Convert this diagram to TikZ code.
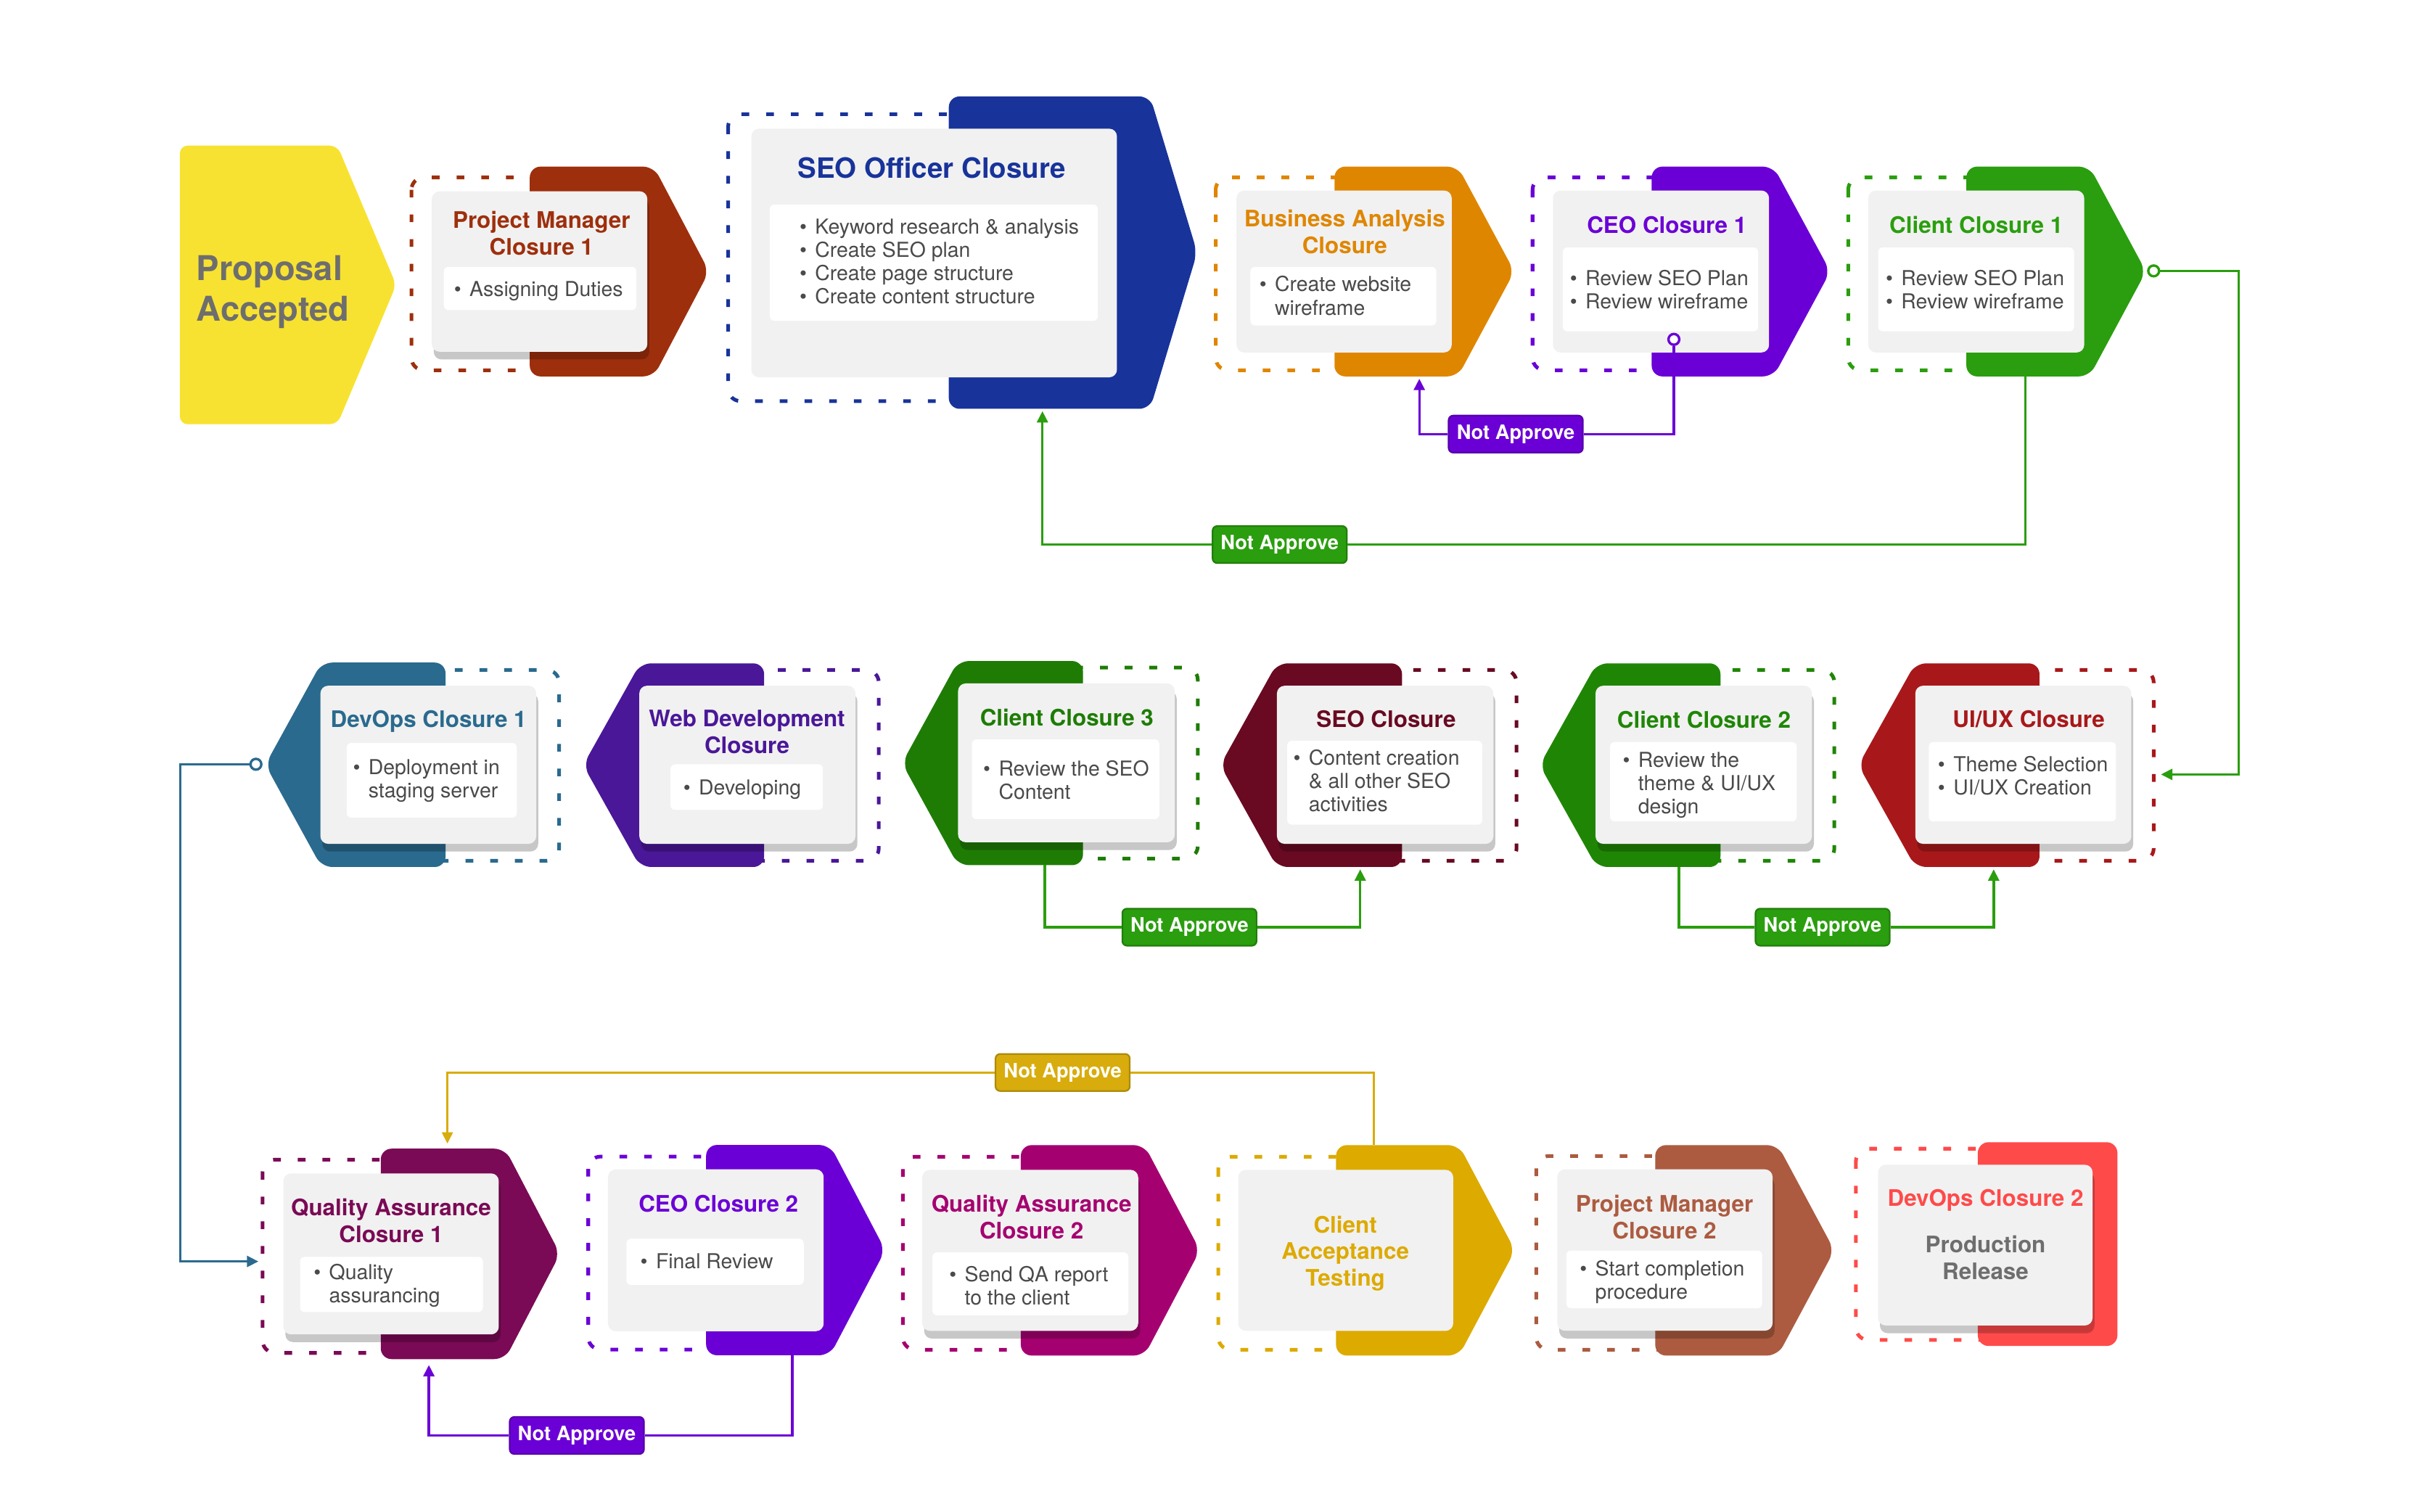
\documentclass[tikz,border=0pt]{standalone}
\usepackage{fontspec}
\setmainfont{TeX Gyre Heros}
\usetikzlibrary{arrows.meta,fit,shadows}
\definecolor{propyel}{HTML}{F8E231}
\definecolor{propgrey}{HTML}{6E6E6E}
\definecolor{cardgrey}{HTML}{F1F1F1}
\definecolor{itemgrey}{HTML}{4A4A4A}
\definecolor{pmred}{HTML}{9E2F0C}
\definecolor{seoblue}{HTML}{18339A}
\definecolor{baorange}{HTML}{DF8600}
\definecolor{ceopurple}{HTML}{6B00D6}
\definecolor{cligreen}{HTML}{2A9E0E}
\definecolor{uxred}{HTML}{A8181A}
\definecolor{cligreenb}{HTML}{1F8605}
\definecolor{seomaroon}{HTML}{690A22}
\definecolor{cligreenc}{HTML}{1E7C04}
\definecolor{webpurple}{HTML}{4A1798}
\definecolor{devteal}{HTML}{2A6A8E}
\definecolor{qaplum}{HTML}{7A0A55}
\definecolor{qamagenta}{HTML}{A50070}
\definecolor{catgold}{HTML}{DDAA00}
\definecolor{pmbrown}{HTML}{AC5B40}
\definecolor{devred}{HTML}{FF4A4A}
\definecolor{notegold}{HTML}{D8AC0C}
\newcommand{\bull}{\makebox[5.7pt][l]{\textbullet}}
\newcommand{\bind}{\hspace*{5.7pt}}

\begin{document}
\begin{tikzpicture}[x=0.2mm,y=-0.2mm,
  ring/.style={draw=#1,line width=1.35pt,dash pattern=on 1mm off 2.2mm,rounded corners=1.6mm},
  tab/.style={fill=#1,rounded corners=1.4mm},
  card/.style={fill=cardgrey,rounded corners=1mm,inner sep=0pt},
  lifted/.style={card,drop shadow={shadow xshift=0.25mm,shadow yshift=-1mm,fill=black,opacity=0.22}},
  itembox/.style={fill=white,rounded corners=0.6mm,inner sep=0pt},
  head/.style={text=#1,anchor=north,inner sep=0pt,align=center,font=\bfseries\fontsize{8.4}{9.85}\selectfont},
  items/.style={text=itemgrey,anchor=north west,inner sep=0pt,align=left,font=\fontsize{7.6}{8.6}\selectfont},
  flow/.style={draw=#1,line width=0.9pt},
  arrowed/.style={-{Triangle[width=4pt,length=4.2pt]}},
  knob/.style={circle,draw=#1,fill=white,line width=0.9pt,minimum size=1.4mm,inner sep=0pt},
  noapp/.style={fill=#1,draw=#1!80!black,line width=0.6pt,text=white,rounded corners=0.6mm,
    minimum width=17.4mm,minimum height=4.8mm,inner sep=0pt,font=\bfseries\fontsize{7.3}{8}\selectfont}]
\useasboundingbox (0,0) rectangle (1568,980);
% proposal
\fill[propyel,rounded corners=1mm] (116.6,94.4) -- (218.7,94.4) -- (256.8,184.7) -- (218.7,275) -- (116.6,275) -- cycle;
\node[anchor=north west,inner sep=0pt,align=left,text=propgrey,font=\bfseries\fontsize{12.6}{14.8}\selectfont] (prop) at (127,165.5) {Proposal\\Accepted};
% project manager 1
\draw[ring=pmred] (266.7,115) rectangle (360,240);
\fill[tab=pmred] (343.4,108) -- (423.8,108) -- (459.6,176) -- (423.8,244) -- (343.4,244) -- cycle;
\node[lifted,fit={(279.9,124) (419.6,228)}] (pmA) {};
\node[itembox,fit={(287.7,173) (412.5,201)}] (pmAbox) {};
\node[head=pmred] (pmAhead) at (351,136.5) {Project Manager\\Closure 1};
\node[items] (pmAlist) at (294,182) {\bull Assigning Duties};
% seo officer
\draw[ring=seoblue] (472,74) rectangle (630,260);
\fill[tab=seoblue] (615,62.5) -- (745.5,62.5) -- (776,163.7) -- (745.5,265) -- (615,265) -- cycle;
\node[card,fit={(487,83.4) (724,244.6)}] (seoA) {};
\node[itembox,fit={(499,132.6) (711.6,208)}] (seoAbox) {};
\node[head=seoblue,font=\bfseries\fontsize{10.3}{12}\selectfont] (seoAhead) at (604,101.5) {SEO Officer Closure};
\node[items] (seoAlist) at (518,141.5) {\bull Keyword research \& analysis\\\bull Create SEO plan\\\bull Create page structure\\\bull Create content structure};
% business analysis
\draw[ring=baorange] (788,115) rectangle (880,240);
\fill[tab=baorange] (865,108) -- (945,108) -- (981.6,176) -- (945,244) -- (865,244) -- cycle;
\node[card,fit={(801.5,123.5) (941,228.5)}] (baA) {};
\node[itembox,fit={(810.5,173) (931,211)}] (baAbox) {};
\node[head=baorange] (baAhead) at (871.6,135.5) {Business Analysis\\Closure};
\node[items] (baAlist) at (816,178.7) {\bull Create website\\\bind wireframe};
% ceo 1
\draw[ring=ceopurple] (993.4,115) rectangle (1085,240);
\fill[tab=ceopurple] (1070.6,108) -- (1149.6,108) -- (1186.4,176) -- (1149.6,244) -- (1070.6,244) -- cycle;
\node[card,fit={(1006.6,123.5) (1146.7,228.5)}] (ceoA) {};
\node[itembox,fit={(1013,160.4) (1139.6,214.8)}] (ceoAbox) {};
\node[head=ceopurple] (ceoAhead) at (1080.4,139.7) {CEO Closure 1};
\node[items] (ceoAlist) at (1017.3,174.9) {\bull Review SEO Plan\\\bull Review wireframe};
% client 1
\draw[ring=cligreen] (1198,115) rectangle (1290,240);
\fill[tab=cligreen] (1274.6,108) -- (1354.4,108) -- (1391,176) -- (1354.4,244) -- (1274.6,244) -- cycle;
\node[card,fit={(1211,123.5) (1351,228.5)}] (cliA) {};
\node[itembox,fit={(1217.4,160.4) (1344.4,214.8)}] (cliAbox) {};
\node[head=cligreen] (cliAhead) at (1281,139.7) {Client Closure 1};
\node[items] (cliAlist) at (1222,174.9) {\bull Review SEO Plan\\\bull Review wireframe};
% ui/ux
\draw[ring=uxred] (1300,434.3) rectangle (1396,558);
\fill[tab=uxred] (1322,430) -- (1241.5,430) -- (1204.6,496) -- (1241.5,562) -- (1322,562) -- cycle;
\node[lifted,fit={(1241.5,444.5) (1381.5,547)}] (uxA) {};
\node[itembox,fit={(1250.2,481) (1371.6,532.5)}] (uxAbox) {};
\node[head=uxred] (uxAhead) at (1315,460) {UI/UX Closure};
\node[items] (uxAlist) at (1255.8,490) {\bull Theme Selection\\\bull UI/UX Creation};
% client 2
\draw[ring=cligreenb] (1095,434.3) rectangle (1189,558);
\fill[tab=cligreenb] (1115.2,430) -- (1035,430) -- (998,496) -- (1035,562) -- (1115.2,562) -- cycle;
\node[lifted,fit={(1034.2,444.5) (1174.5,547)}] (cliB) {};
\node[itembox,fit={(1043.6,481) (1164.6,532.5)}] (cliBbox) {};
\node[head=cligreenb] (cliBhead) at (1104.5,460.4) {Client Closure 2};
\node[items] (cliBlist) at (1051.5,487.2) {\bull Review the\\\bind theme \& UI/UX\\\bind design};
% seo closure
\draw[ring=seomaroon] (890,434.3) rectangle (983,558);
\fill[tab=seomaroon] (908.8,430) -- (827.7,430) -- (791,496) -- (827.7,562) -- (908.8,562) -- cycle;
\node[lifted,fit={(827.7,444.5) (968,547)}] (seoB) {};
\node[itembox,fit={(834.4,480.2) (960.8,534.6)}] (seoBbox) {};
\node[head=seomaroon] (seoBhead) at (898.5,460) {SEO Closure};
\node[items] (seoBlist) at (838,485.7) {\bull Content creation\\\bind \& all other SEO\\\bind activities};
% client 3
\draw[ring=cligreenc] (680,432.7) rectangle (776.4,556.5);
\fill[tab=cligreenc] (702,428.5) -- (621,428.5) -- (584.7,494.7) -- (621,560.8) -- (702,560.8) -- cycle;
\node[lifted,fit={(621,443) (761.5,546)}] (cliC) {};
\node[itembox,fit={(630,479.3) (751.5,531)}] (cliCbox) {};
\node[head=cligreenc] (cliChead) at (691.5,459.2) {Client Closure 3};
\node[items] (cliClist) at (637,492.7) {\bull Review the SEO\\\bind Content};
% web development
\draw[ring=webpurple] (475,434.3) rectangle (569.6,558);
\fill[tab=webpurple] (495.3,430) -- (415,430) -- (378,496) -- (415,562) -- (495.3,562) -- cycle;
\node[lifted,fit={(414.4,444.5) (554.5,547)}] (webA) {};
\node[itembox,fit={(434.6,495.4) (533.4,525)}] (webAbox) {};
\node[head=webpurple] (webAhead) at (484.2,460) {Web Development\\Closure};
\node[items] (webAlist) at (442.6,505) {\bull Developing};
% devops 1
\draw[ring=devteal] (270,434.3) rectangle (362.4,558);
\fill[tab=devteal] (288.8,429.5) -- (208.4,429.5) -- (172,495.7) -- (208.4,562) -- (288.8,562) -- cycle;
\node[lifted,fit={(207.7,444.5) (347.6,547)}] (devA) {};
\node[itembox,fit={(224.7,481.6) (335,530)}] (devAbox) {};
\node[head=devteal] (devAhead) at (277.8,460) {DevOps Closure 1};
\node[items] (devAlist) at (228.5,491.9) {\bull Deployment in\\\bind staging server};
% quality assurance 1
\draw[ring=qaplum] (170.2,751.7) rectangle (260,877);
\fill[tab=qaplum] (246.8,744.6) -- (327.4,744.6) -- (363,812.8) -- (327.4,881) -- (246.8,881) -- cycle;
\node[lifted,fit={(183.7,760.6) (323.3,865)}] (qaA) {};
\node[itembox,fit={(194.5,814.7) (313,850.5)}] (qaAbox) {};
\node[head=qaplum] (qaAhead) at (253.5,776.7) {Quality Assurance\\Closure 1};
\node[items] (qaAlist) at (203,819) {\bull Quality\\\bind assurancing};
% ceo 2
\draw[ring=ceopurple] (381.3,749.7) rectangle (470,874.8);
\fill[tab=ceopurple] (457.7,742.2) -- (538,742.2) -- (573.8,810.4) -- (538,878.5) -- (457.7,878.5) -- cycle;
\node[card,fit={(394.1,758) (533.9,862.9)}] (ceoB) {};
\node[itembox,fit={(406,803) (521,832.9)}] (ceoBbox) {};
\node[head=ceopurple] (ceoBhead) at (465.7,774.3) {CEO Closure 2};
\node[items] (ceoBlist) at (414.8,812) {\bull Final Review};
% quality assurance 2
\draw[ring=qamagenta] (585.2,749.8) rectangle (675,874.9);
\fill[tab=qamagenta] (661.7,742.3) -- (741.8,742.3) -- (777.8,810.5) -- (741.8,878.7) -- (661.7,878.7) -- cycle;
\node[lifted,fit={(597.8,758.3) (737.8,862.7)}] (qaB) {};
\node[itembox,fit={(604.4,811.8) (731.4,852.6)}] (qaBbox) {};
\node[head=qamagenta] (qaBhead) at (668.6,774.3) {Quality Assurance\\Closure 2};
\node[items] (qaBlist) at (615,820.3) {\bull Send QA report\\\bind to the client};
% client acceptance
\draw[ring=catgold] (789.7,749.8) rectangle (880,874.9);
\fill[tab=catgold] (866,742.3) -- (945.7,742.3) -- (982,810.5) -- (945.7,878.7) -- (866,878.7) -- cycle;
\node[card,fit={(802.6,758.3) (942,862.7)}] (catA) {};
\node[head=catgold] (catAhead) at (872,787.7) {Client\\Acceptance\\Testing};
% project manager 2
\draw[ring=pmbrown] (995.8,749.4) rectangle (1085,874.9);
\fill[tab=pmbrown] (1072.9,742.3) -- (1152.4,742.3) -- (1189,810.5) -- (1152.4,878.7) -- (1072.9,878.7) -- cycle;
\node[lifted,fit={(1009.4,758) (1149,862.6)}] (pmB) {};
\node[itembox,fit={(1015.3,810.6) (1142.2,848)}] (pmBbox) {};
\node[head=pmbrown] (pmBhead) at (1078.9,774.3) {Project Manager\\Closure 2};
\node[items] (pmBlist) at (1023.7,816.5) {\bull Start completion\\\bind procedure};
% devops 2
\draw[ring=devred] (1203,744.6) rectangle (1295,868.6);
\fill[tab=devred] (1282,740.4) rectangle (1372.5,872.5);
\node[lifted,fit={(1217.3,755) (1356.4,859.2)}] (devB) {};
\node[head=devred] (devBhead) at (1287,770.5) {DevOps Closure 2};
\node[head=propgrey] (devBtext) at (1287,800.7) {Production\\Release};
% not approve loops
\coordinate (baAin) at (920,245.5);
\coordinate (seoAin) at (675.7,266.5);
\coordinate (cliAbot) at (1312.7,244);
\coordinate (uxAin) at (1400.7,502);
\coordinate (uxAbot) at (1292.3,563.5);
\coordinate (cliBbot) at (1088.2,562);
\coordinate (seoBbot) at (881.7,563.5);
\coordinate (cliCbot) at (677.3,560.8);
\coordinate (qaAin) at (167.5,817.7);
\coordinate (qaAtop) at (290,741.3);
\coordinate (catAtop) at (890.4,742.3);
\coordinate (qaAbot) at (278,884.8);
\coordinate (ceoBbot) at (513.6,878.5);
\node[knob=ceopurple] (ceoAdot) at (1085,220) {};
\node[knob=cligreen] (cliAdot) at (1396,175.6) {};
\node[knob=devteal] (devAdot) at (165.9,495.4) {};
\node[noapp=ceopurple] (naA) at (982.5,281.4) {Not Approve};
\node[noapp=cligreen] (naB) at (829.5,353) {Not Approve};
\node[noapp=cligreen] (naC) at (771,601) {Not Approve};
\node[noapp=cligreen] (naD) at (1181.4,601) {Not Approve};
\node[noapp=notegold] (naE) at (688.8,695.2) {Not Approve};
\node[noapp=ceopurple] (naF) at (373.9,930.5) {Not Approve};
\draw[flow=ceopurple] (ceoAdot) |- (naA.east);
\draw[flow=ceopurple,arrowed] (naA.west) -| (baAin);
\draw[flow=cligreen] (cliAbot) |- (naB.east);
\draw[flow=cligreen,arrowed] (naB.west) -| (seoAin);
\draw[flow=cligreen,arrowed] (cliAdot) -- ++(55,0) |- (uxAin);
\draw[flow=cligreen] (cliBbot) |- (naD.west);
\draw[flow=cligreen,arrowed] (naD.east) -| (uxAbot);
\draw[flow=cligreen] (cliCbot) |- (naC.west);
\draw[flow=cligreen,arrowed] (naC.east) -| (seoBbot);
\draw[flow=devteal,arrowed] (devAdot) -- ++(-49,0) |- (qaAin);
\draw[flow=notegold] (catAtop) |- (naE.east);
\draw[flow=notegold,arrowed] (naE.west) -| (qaAtop);
\draw[flow=ceopurple] (ceoBbot) |- (naF.east);
\draw[flow=ceopurple,arrowed] (naF.west) -| (qaAbot);
\end{tikzpicture}
\end{document}
